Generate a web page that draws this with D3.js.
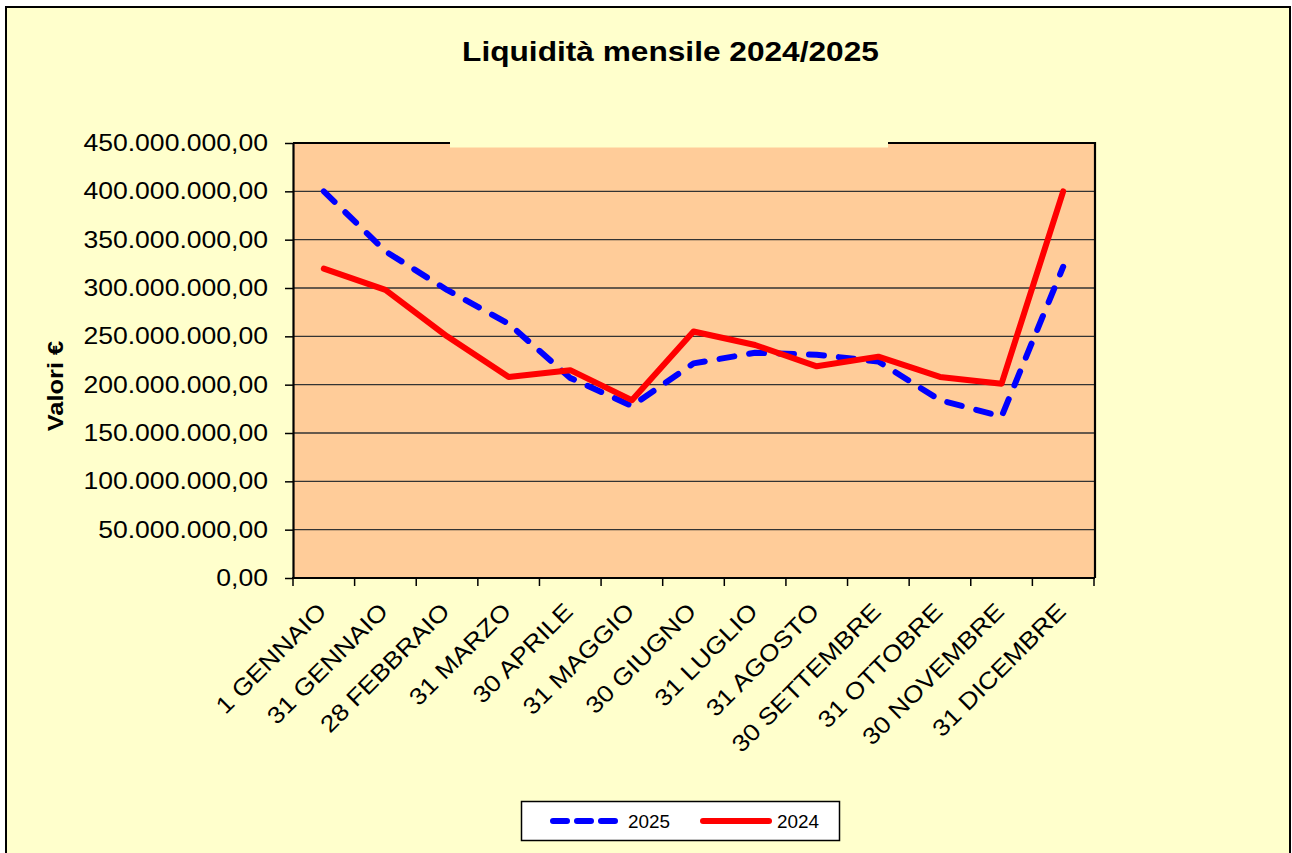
<!DOCTYPE html>
<html>
<head>
<meta charset="utf-8">
<script src="https://cdn.jsdelivr.net/npm/d3@7"></script>
<style>
  html, body { margin: 0; padding: 0; background: #ffffff; }
  svg { display: block; font-family: "Liberation Sans", Arial, sans-serif; }
</style>
</head>
<body>
<svg id="chart" width="1292" height="853"></svg>
<script>
// ---- data ----
const categories = ["1 GENNAIO","31 GENNAIO","28 FEBBRAIO","31 MARZO","30 APRILE","31 MAGGIO","30 GIUGNO","31 LUGLIO","31 AGOSTO","30 SETTEMBRE","31 OTTOBRE","30 NOVEMBRE","31 DICEMBRE"];
const values2025 = [400e6, 338e6, 298e6, 263e6, 207e6, 178e6, 222e6, 233e6, 231e6, 224e6, 184e6, 167e6, 322e6];
const values2024 = [320e6, 298e6, 250e6, 208e6, 215e6, 184e6, 255e6, 241e6, 219e6, 229e6, 208e6, 201e6, 400e6];
const yTicks = [0, 50e6, 100e6, 150e6, 200e6, 250e6, 300e6, 350e6, 400e6, 450e6];
const seriesNames = ["2025", "2024"];
const titleText = "Liquidità mensile 2024/2025";
const yTitleText = "Valori €";

// ---- layout ----
const svg = d3.select("#chart");
const plot = { left: 293, right: 1094, top: 143, bottom: 578 };
const stretch = 1.13;

function widen(sel, k) {
  sel.each(function() {
    const n = this.getComputedTextLength();
    d3.select(this).attr("textLength", n * k).attr("lengthAdjust", "spacingAndGlyphs");
  });
}

// outer chart frame
svg.append("rect").attr("x", 6).attr("y", 7).attr("width", 1284).attr("height", 870)
  .attr("fill", "#FFFFCC").attr("stroke", "#000").attr("stroke-width", 2);

const x = d3.scaleBand().domain(categories).range([plot.left, plot.right]).padding(0);
const y = d3.scaleLinear().domain([0, 450e6]).range([plot.bottom, plot.top]);

const it = d3.formatLocale({ decimal: ",", thousands: ".", grouping: [3], currency: ["", "€"] });
const fmt = it.format(",.2f");

// plot background
svg.append("rect").attr("x", plot.left).attr("y", plot.top)
  .attr("width", plot.right - plot.left).attr("height", plot.bottom - plot.top)
  .attr("fill", "#FFCC99");

// gridlines
svg.append("g").selectAll("line").data(yTicks.filter(d => d > 0)).join("line")
  .attr("x1", plot.left).attr("x2", plot.right)
  .attr("y1", d => y(d)).attr("y2", d => y(d))
  .attr("stroke", "#333").attr("stroke-width", 1.4);

// plot border (right + top)
svg.append("path")
  .attr("d", `M${plot.left},${plot.top}H${plot.right + 1}V${plot.bottom}`)
  .attr("fill", "none").attr("stroke", "#000").attr("stroke-width", 2.2);

// patch covering part of the top border (as in the reference)
svg.append("rect").attr("x", 450).attr("y", 120).attr("width", 438).attr("height", 27.5)
  .attr("fill", "#FFFFCC");

// y axis
const yAxis = d3.axisLeft(y).tickValues(yTicks).tickFormat(fmt).tickSizeInner(8).tickSizeOuter(0).tickPadding(17);
const gy = svg.append("g").attr("transform", `translate(${plot.left},0)`).call(yAxis);
gy.select(".domain").attr("stroke", "#000").attr("stroke-width", 2.2);
gy.selectAll(".tick line").attr("stroke", "#000").attr("stroke-width", 1.5);
gy.selectAll(".tick text").attr("font-size", 23.5).attr("fill", "#000")
  .attr("font-family", "'Liberation Sans', Arial, sans-serif");
widen(gy.selectAll(".tick text"), stretch);

// x axis: ticks at band edges
const edges = categories.map(c => x(c)).concat([plot.right]);
const gx = svg.append("g");
gx.append("line").attr("x1", plot.left - 1).attr("x2", plot.right + 1)
  .attr("y1", plot.bottom).attr("y2", plot.bottom)
  .attr("stroke", "#000").attr("stroke-width", 2.2);
gx.selectAll("line.tk").data(edges).join("line").attr("class", "tk")
  .attr("x1", d => d).attr("x2", d => d)
  .attr("y1", plot.bottom).attr("y2", plot.bottom + 8)
  .attr("stroke", "#000").attr("stroke-width", 1.5);
const xl = gx.selectAll("text").data(categories).join("text")
  .attr("transform", d => `translate(${x(d) + x.bandwidth() / 2 + 4},${plot.bottom + 35}) rotate(-45)`)
  .attr("text-anchor", "end")
  .attr("font-size", 23.5).attr("fill", "#000")
  .text(d => d);
widen(xl, stretch);

// lines
const line = d3.line().x((d, i) => x(categories[i]) + x.bandwidth() / 2).y(d => y(d));
svg.append("path").datum(values2025).attr("d", line)
  .attr("fill", "none").attr("stroke", "#0000FF").attr("stroke-width", 6)
  .attr("stroke-linecap", "round").attr("stroke-linejoin", "round")
  .attr("stroke-dasharray", "15 15");
svg.append("path").datum(values2024).attr("d", line)
  .attr("fill", "none").attr("stroke", "#FF0000").attr("stroke-width", 6)
  .attr("stroke-linecap", "round").attr("stroke-linejoin", "round");

// title
const tt = svg.append("text").attr("x", 670.5).attr("y", 61).attr("text-anchor", "middle")
  .attr("font-size", 28).attr("font-weight", "bold").attr("fill", "#000").text(titleText);
widen(tt, stretch);

// y axis title
const yt = svg.append("text").attr("transform", "translate(63,386) rotate(-90)")
  .attr("text-anchor", "middle").attr("font-size", 22.5).attr("font-weight", "bold")
  .attr("fill", "#000").text(yTitleText);
widen(yt, stretch);

// legend
const lg = svg.append("g");
lg.append("rect").attr("x", 521.5).attr("y", 801.5).attr("width", 318).attr("height", 39)
  .attr("fill", "#fff").attr("stroke", "#000").attr("stroke-width", 1.5);
const legendItems = [
  { name: seriesNames[0], color: "#0000FF", dash: "14 10", x1: 553, x2: 617, tx: 628 },
  { name: seriesNames[1], color: "#FF0000", dash: null, x1: 703, x2: 769, tx: 777 }
];
legendItems.forEach(l => {
  lg.append("line").attr("x1", l.x1).attr("x2", l.x2).attr("y1", 821).attr("y2", 821)
    .attr("stroke", l.color).attr("stroke-width", 6).attr("stroke-linecap", "round")
    .attr("stroke-dasharray", l.dash);
  const t = lg.append("text").attr("x", l.tx).attr("y", 828).attr("font-size", 18)
    .attr("fill", "#000").text(l.name);
  widen(t, 1.05);
});
</script>
</body>
</html>
